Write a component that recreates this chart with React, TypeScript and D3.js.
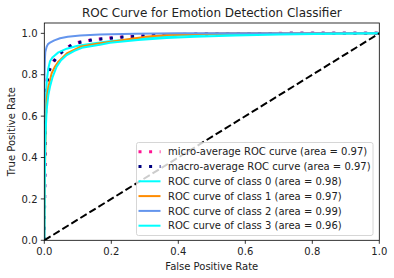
import React from "react";
import * as d3 from "d3";

// [fpr, tpr] points
const microAvg: [number, number][] = [
  [0, 0], [0.002, 0.45], [0.004, 0.68], [0.006, 0.75], [0.01, 0.8], [0.015, 0.83],
  [0.022, 0.855], [0.032, 0.875], [0.045, 0.9], [0.057, 0.918], [0.072, 0.935],
  [0.087, 0.95], [0.11, 0.96], [0.146, 0.97], [0.19, 0.977], [0.235, 0.983],
  [0.33, 0.991], [0.45, 0.997], [0.55, 0.999], [0.7, 1.0], [1, 1],
];
const macroAvg: [number, number][] = [
  [0, 0], [0.002, 0.4], [0.004, 0.62], [0.007, 0.72], [0.01, 0.78], [0.015, 0.82],
  [0.022, 0.85], [0.032, 0.872], [0.045, 0.898], [0.057, 0.917], [0.072, 0.933],
  [0.087, 0.948], [0.11, 0.958], [0.146, 0.969], [0.19, 0.976], [0.235, 0.982],
  [0.33, 0.99], [0.45, 0.996], [0.6, 0.999], [0.75, 1.0], [1, 1],
];
const class0: [number, number][] = [
  [0, 0], [0.001, 0.3], [0.003, 0.55], [0.005, 0.7], [0.008, 0.78], [0.012, 0.83],
  [0.017, 0.865], [0.025, 0.885], [0.042, 0.908], [0.067, 0.926], [0.1, 0.94],
  [0.15, 0.952], [0.2, 0.963], [0.3, 0.976], [0.4, 0.988], [0.5, 0.994],
  [0.65, 0.997], [0.8, 0.999], [1, 1],
];
const class1: [number, number][] = [
  [0, 0], [0.001, 0.2], [0.003, 0.45], [0.005, 0.6], [0.007, 0.68], [0.012, 0.74],
  [0.022, 0.807], [0.032, 0.84], [0.042, 0.863], [0.067, 0.903], [0.107, 0.935],
  [0.166, 0.952], [0.2, 0.96], [0.265, 0.975], [0.3, 0.983], [0.365, 0.992],
  [0.45, 0.997], [0.55, 1.0], [1, 1],
];
const class2: [number, number][] = [
  [0, 0], [0, 0.75], [0.002, 0.88], [0.003, 0.91], [0.007, 0.935], [0.011, 0.948],
  [0.017, 0.955], [0.03, 0.966], [0.047, 0.976], [0.07, 0.984], [0.107, 0.99],
  [0.166, 0.994], [0.27, 0.998], [0.4, 1.0], [1, 1],
];
const class3: [number, number][] = [
  [0, 0], [0.001, 0.25], [0.003, 0.48], [0.005, 0.56], [0.007, 0.63], [0.012, 0.7],
  [0.017, 0.742], [0.025, 0.79], [0.037, 0.839], [0.05, 0.87], [0.067, 0.895],
  [0.09, 0.915], [0.116, 0.932], [0.166, 0.945], [0.196, 0.955], [0.28, 0.968],
  [0.365, 0.978], [0.45, 0.984], [0.57, 0.99], [0.7, 0.995], [0.86, 0.998], [1, 1],
];
const diagonal: [number, number][] = [[0, 0], [1, 1]];

const seriesLabels = [
  "micro-average ROC curve (area = 0.97)",
  "macro-average ROC curve (area = 0.97)",
  "ROC curve of class 0 (area = 0.98)",
  "ROC curve of class 1 (area = 0.97)",
  "ROC curve of class 2 (area = 0.99)",
  "ROC curve of class 3 (area = 0.96)",
];
const seriesData = [microAvg, macroAvg, class0, class1, class2, class3];
const seriesColors = ["deeppink", "navy", "aqua", "darkorange", "cornflowerblue", "aqua"];
const seriesDotted = [true, true, false, false, false, false];

const xTicks = [0, 0.2, 0.4, 0.6, 0.8, 1.0];
const yTicks = [0, 0.2, 0.4, 0.6, 0.8, 1.0];

const W = 394;
const H = 278;
const left = 44.3, right = 379.3, top = 23, bottom = 240.3;
const font = "DejaVu Sans, sans-serif";
const ink = "#222";

export default function App() {
  const x = d3.scaleLinear().domain([0, 1]).range([left, right]);
  const y = d3.scaleLinear().domain([0, 1.05]).range([bottom, top]);
  const line = d3.line<[number, number]>().x((d) => x(d[0])).y((d) => y(d[1]));

  const lw = (i: number) => (seriesDotted[i] ? 3 : 2);
  const dash = (i: number) => (seriesDotted[i] ? "3 7.6" : undefined);

  const legX = 136.5, legY = 142.5, legW = 236.5, legH = 93;
  const rowY = (i: number) => 151.7 + i * 14.8;

  return (
    <svg width={W} height={H} style={{ position: "absolute", left: 0, top: 0, background: "#fff" }}>
      <defs>
        <clipPath id="plot">
          <rect x={left} y={top} width={right - left} height={bottom - top} />
        </clipPath>
      </defs>
      <rect x={0} y={0} width={W} height={H} fill="#fff" />
      <g clipPath="url(#plot)">
        {seriesData.map((d, i) => (
          <path key={i} d={line(d) || ""} fill="none" stroke={seriesColors[i]}
            strokeWidth={lw(i)} strokeDasharray={dash(i)} strokeLinejoin="round" />
        ))}
        <path d={line(diagonal) || ""} fill="none" stroke="#000" strokeWidth={2} strokeDasharray="7.4 3.2" />
      </g>
      {/* spines */}
      <rect x={left} y={top} width={right - left} height={bottom - top} fill="none" stroke="#000" strokeWidth={0.8} />
      {xTicks.map((t) => (
        <g key={"x" + t}>
          <line x1={x(t)} x2={x(t)} y1={bottom} y2={bottom + 3.5} stroke="#000" strokeWidth={0.8} />
          <text x={x(t)} y={255} textAnchor="middle" fontFamily={font} fontSize={10} fill={ink}>{t.toFixed(1)}</text>
        </g>
      ))}
      {yTicks.map((t) => (
        <g key={"y" + t}>
          <line x1={left - 3.5} x2={left} y1={y(t)} y2={y(t)} stroke="#000" strokeWidth={0.8} />
          <text x={37.5} y={y(t) + 3.6} textAnchor="end" fontFamily={font} fontSize={10} fill={ink}>{t.toFixed(1)}</text>
        </g>
      ))}
      <text x={(left + right) / 2} y={269.5} textAnchor="middle" fontFamily={font} fontSize={10} fill={ink}>False Positive Rate</text>
      <text transform={`translate(15,${(top + bottom) / 2}) rotate(-90)`} textAnchor="middle" fontFamily={font} fontSize={10} fill={ink}>True Positive Rate</text>
      <text x={(left + right) / 2} y={17} textAnchor="middle" fontFamily={font} fontSize={12} fill={ink}>ROC Curve for Emotion Detection Classifier</text>
      {/* legend */}
      <rect x={legX} y={legY} width={legW} height={legH} rx={2} fill="#fff" fillOpacity={0.8} stroke="#ccc" strokeWidth={0.8} />
      {seriesLabels.map((s, i) => (
        <g key={s}>
          <line x1={138.5} x2={160.5} y1={rowY(i)} y2={rowY(i)} stroke={seriesColors[i]}
            strokeWidth={lw(i)} strokeDasharray={dash(i)} />
          <text x={168} y={rowY(i) + 3.6} fontFamily={font} fontSize={10} fill={ink}>{s}</text>
        </g>
      ))}
    </svg>
  );
}
